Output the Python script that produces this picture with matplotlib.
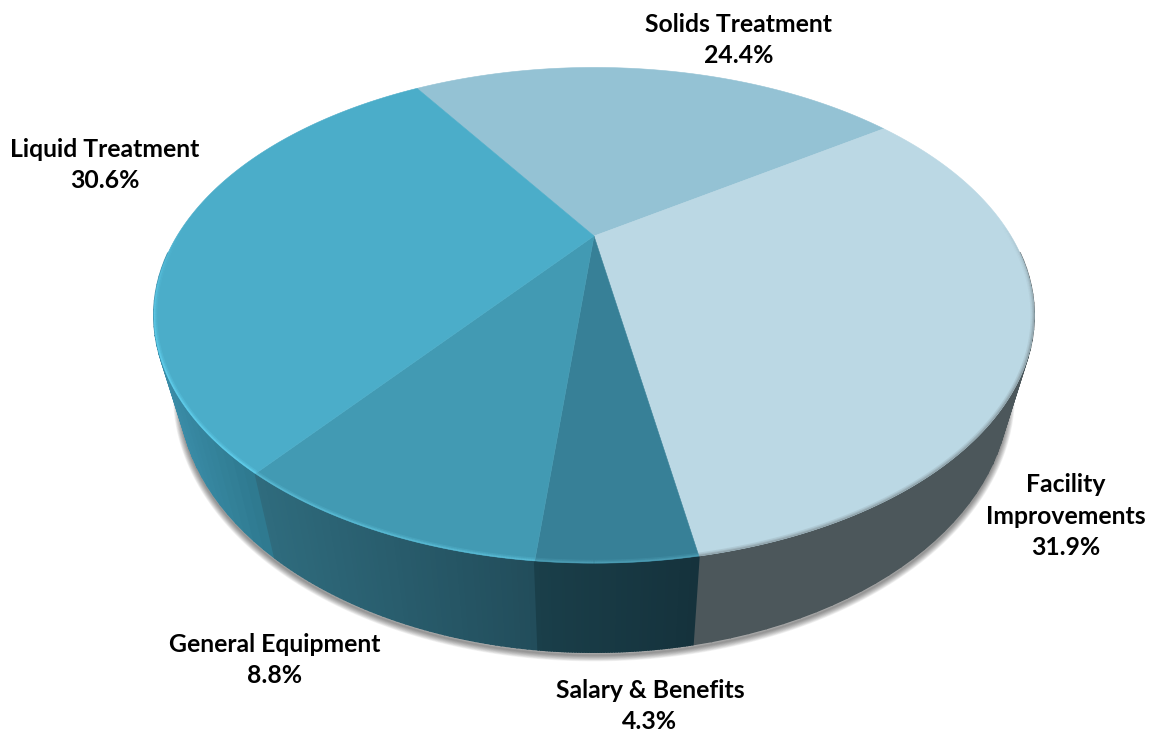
import numpy as np
import matplotlib
matplotlib.use('Agg')
import matplotlib.pyplot as plt
from matplotlib.collections import LineCollection
from matplotlib.colors import to_rgb, to_rgba
from matplotlib.patches import Polygon

labels = ['Solids Treatment', 'Facility\nImprovements', 'Salary & Benefits', 'General Equipment', 'Liquid Treatment']
shares = [24.4, 31.9, 4.3, 8.8, 30.6]

top_colors = ['#94c2d4', '#bbd8e4', '#378097', '#429ab3', '#4badc9']
wall_left = ['#4f8ba0', '#4c575b', '#1a3f4a', '#2f6c7e', '#3c8fab']
wall_right = ['#4f8ba0', '#4c575b', '#15323c', '#224d5b', '#2f7a90']
rim_colors = ['#94c2d4', '#8b9ca3', '#52a5bc', '#5dc0da', '#63d2f0']

label_pos = [(739, 40), (1066, 516), (650, 706), (275, 660), (105, 165)]

start_angle = 122.6
persp = 0.32
apex_x = 594


def project(theta, cy, rx, ry):
    # circle to screen with a simple perspective divide
    u = np.cos(np.radians(theta))
    v = np.sin(np.radians(theta))
    d = 1 + persp * v
    return apex_x + rx * u / d, cy - ry * v / d


def top_edge(theta):
    return project(theta, 236, 417, 222.5)


def bottom_edge(theta):
    return project(theta, 308, 393, 234)


fig = plt.figure(figsize=(11.51, 7.32), dpi=100)
ax = fig.add_axes([0, 0, 1, 1])
ax.set_xlim(0, 1151)
ax.set_ylim(732, 0)
ax.axis('off')

sweeps = np.array(shares) * 3.6
ends = start_angle - np.cumsum(sweeps)
starts = ends + sweeps

# soft shadow under the base, front half only
all_theta = np.linspace(0, 360, 361)
shadow_theta = np.linspace(185, 355, 200)
bx, by = bottom_edge(shadow_theta)
for lw in np.arange(1, 10, 1.0):
    ax.plot(bx, by + 3, color='black', alpha=0.055, lw=lw, zorder=1)

# side walls, back to front
quads = []
for i in range(len(shares)):
    th = np.linspace(starts[i], ends[i], 60)
    tx, ty = top_edge(th)
    bx, by = bottom_edge(th)
    front = np.sin(np.radians(th)) < -0.1
    if not front.any():
        continue
    x0 = tx[front].min()
    x1 = tx[front].max()
    c0 = np.array(to_rgb(wall_left[i]))
    c1 = np.array(to_rgb(wall_right[i]))
    for k in range(len(th) - 1):
        if not (front[k] or front[k + 1]):
            continue
        t = np.clip((tx[k] - x0) / max(x1 - x0, 1), 0, 1)
        col = c0 + (c1 - c0) * t
        xy = [(tx[k], ty[k]), (tx[k + 1], ty[k + 1]), (bx[k + 1], by[k + 1]), (bx[k], by[k])]
        quads.append((np.sin(np.radians(th[k])), xy, col))
quads.sort(key=lambda q: -q[0])
for _, xy, col in quads:
    ax.add_patch(Polygon(xy, closed=True, facecolor=col, edgecolor=col, lw=1.2, zorder=2))

# top face slices
for i in range(len(shares)):
    th = np.linspace(starts[i], ends[i], 120)
    tx, ty = top_edge(th)
    xy = [(apex_x, 236)] + list(zip(tx, ty))
    ax.add_patch(Polygon(xy, closed=True, facecolor=top_colors[i], edgecolor=top_colors[i], lw=0.4, zorder=3))

# bevel along the front edge, kept inside the top face
outline = Polygon(np.column_stack(top_edge(all_theta)), closed=True, transform=ax.transData, fill=False, lw=0)
ax.add_patch(outline)
for i in range(len(shares)):
    th = np.linspace(starts[i], ends[i], 200)
    tx, ty = top_edge(th)
    pts = np.column_stack([tx, ty])
    segs = np.stack([pts[:-1], pts[1:]], axis=1)
    strength = np.clip(-np.sin(np.radians(th[:-1])) * 1.8 + 0.1, 0, 1)
    for lw, a in [(5.0, 0.25), (3.0, 0.4), (1.6, 0.7)]:
        cols = [to_rgba(rim_colors[i], a * s) for s in strength]
        lc = LineCollection(segs, colors=cols, linewidths=lw, zorder=4, capstyle='butt')
        ax.add_collection(lc)
        lc.set_clip_path(outline)

for name, val, (x, y) in zip(labels, shares, label_pos):
    ax.text(x, y, f'{name}\n{val}%', ha='center', va='center', family='Lato',
            fontweight='bold', fontsize=17.8, color='black', linespacing=1.43, zorder=6)

fig.savefig('out.png', dpi=100)
